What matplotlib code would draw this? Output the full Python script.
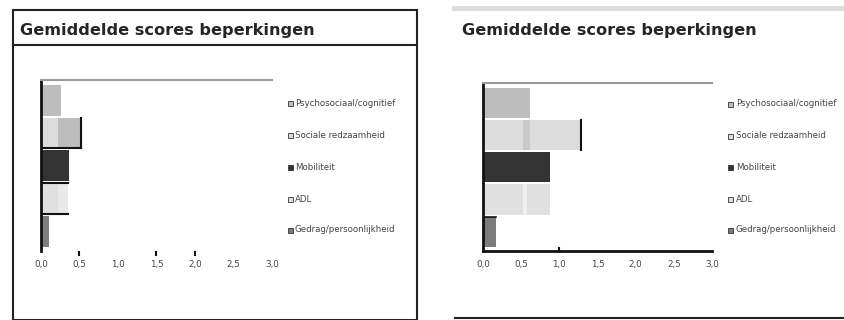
import matplotlib
matplotlib.use("Agg")
import matplotlib.pyplot as plt
from matplotlib.patches import Rectangle
from matplotlib.lines import Line2D

W, H = 845, 320

title = "Gemiddelde scores beperkingen"
categories = ["Psychosociaal/cognitief", "Sociale redzaamheid", "Mobiliteit",
              "ADL", "Gedrag/persoonlijkheid"]
bar_colors = ["#bdbdbd", "#dcdcdc", "#333333", "#e0e0e0", "#7c7c7c"]
tick_values = [0.0, 0.5, 1.0, 1.5, 2.0, 2.5, 3.0]
tick_labels = ["0,0", "0,5", "1,0", "1,5", "2,0", "2,5", "3,0"]

# scores per panel
scores_left = [0.26, 0.52, 0.37, 0.35, 0.10]
scores_right = [0.61, 1.28, 0.88, 0.88, 0.17]

# inner shaded segments: (category index, start, end, colour)
segments_left = [(1, 0.22, 0.52, "#bdbdbd"), (3, 0.22, 0.35, "#e9e9e9")]
segments_right = [(1, 0.52, 0.62, "#c8c8c8"), (3, 0.52, 0.58, "#eeeeee")]

fig = plt.figure(figsize=(W / 100, H / 100), dpi=100)
fig.patch.set_facecolor("white")


def px_axes(x0, y0, x1, y1):
    return fig.add_axes([x0 / W, 1 - y1 / H, (x1 - x0) / W, (y1 - y0) / H])


def fig_line(xs, ys, **kw):
    fig.add_artist(Line2D([x / W for x in xs], [1 - y / H for y in ys],
                          transform=fig.transFigure, **kw))


def draw_panel(ax, scores, segments, bottom_axis):
    y = list(range(len(categories)))
    ax.barh(y, scores, height=0.94, color=bar_colors, edgecolor="none", zorder=2)
    for i, a, b, c in segments:
        ax.barh(i, b - a, left=a, height=0.94, color=c, edgecolor="none", zorder=3)
    ax.set_xlim(0, 3.0)
    ax.set_ylim(4.6, -0.62)
    ax.set_yticks([])
    ax.set_xticks(tick_values)
    ax.set_xticklabels(tick_labels, fontsize=6.3, color="#444444")
    ax.spines["right"].set_visible(False)
    ax.spines["top"].set_color("#999999")
    ax.spines["top"].set_linewidth(1.5)
    ax.spines["left"].set_color("#111111")
    ax.spines["left"].set_linewidth(2)
    if bottom_axis:
        ax.spines["bottom"].set_color("#111111")
        ax.spines["bottom"].set_linewidth(2)
    else:
        ax.spines["bottom"].set_visible(False)
    ax.tick_params(axis="x", length=0, pad=6.5)
    ax.set_facecolor("white")


def draw_legend(x_sq, y_rows):
    for name, col, yy in zip(categories, bar_colors, y_rows):
        fig.add_artist(Rectangle(((x_sq - 2.5) / W, 1 - (yy + 2.5) / H), 5 / W, 5 / H,
                                 transform=fig.transFigure, facecolor=col,
                                 edgecolor="#333333", linewidth=0.6))
        fig.text((x_sq + 5) / W, 1 - yy / H, name, fontsize=6.2, color="#444444",
                 va="center", ha="left")


# left panel: framed card with title band
fig.add_artist(Rectangle((13 / W, 0), (417 - 13) / W, 1 - 10 / H,
                         transform=fig.transFigure, fill=False,
                         edgecolor="#222222", linewidth=1.5))
fig_line([13, 417], [45, 45], color="#222222", linewidth=1.5)
fig.text(20 / W, 1 - 30 / H, title, fontsize=11.6, fontweight="bold",
         color="#262626", va="center", ha="left")

axL = px_axes(41, 80, 272, 251)
draw_panel(axL, scores_left, segments_left, bottom_axis=False)
for xv in [0.5, 1.5, 2.0]:
    axL.plot([xv, xv], [4.62, 4.72], color="#111111", linewidth=1.5,
             clip_on=False, zorder=4)
# dark edges on the social and ADL bars
axL.plot([scores_left[1]] * 2, [0.53, 1.47], color="#111111", linewidth=1.5, zorder=4)
axL.plot([0, scores_left[1]], [1.47, 1.47], color="#111111", linewidth=1.5, zorder=4)
axL.plot([0, scores_left[3]], [2.53, 2.53], color="#111111", linewidth=1.5, zorder=4)
axL.plot([0, scores_left[3]], [3.47, 3.47], color="#111111", linewidth=1.5, zorder=4)
draw_legend(290, [103, 135, 167, 199, 230])

# right panel
fig.add_artist(Rectangle((452 / W, 1 - 11 / H), (845 - 452) / W, 5 / H,
                         transform=fig.transFigure, facecolor="#dddddd",
                         edgecolor="none"))
fig_line([455, 845], [318, 318], color="#222222", linewidth=1.5)
fig.text(462 / W, 1 - 30 / H, title, fontsize=11.6, fontweight="bold",
         color="#262626", va="center", ha="left")

axR = px_axes(483, 83, 712, 251)
draw_panel(axR, scores_right, segments_right, bottom_axis=True)
axR.plot([1.0, 1.0], [4.5, 4.6], color="#111111", linewidth=1.5, zorder=4)
axR.plot([scores_right[1]] * 2, [0.53, 1.47], color="#111111", linewidth=1.5, zorder=4)
axR.plot([0, scores_right[4]], [3.55, 3.55], color="#111111", linewidth=1.2, zorder=4)
draw_legend(731, [104, 136, 167, 199, 230])

fig.savefig("out.png", dpi=100, facecolor="white")
